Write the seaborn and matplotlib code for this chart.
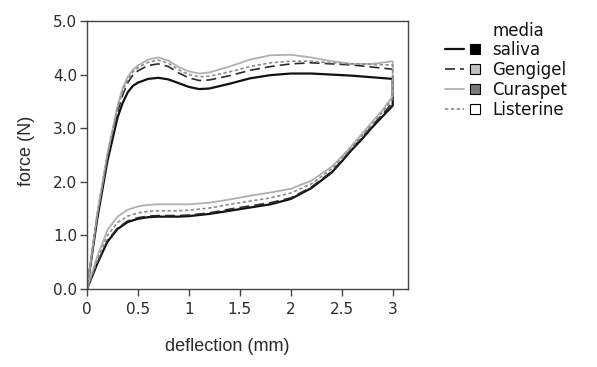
import pandas as pd
import numpy as np
import matplotlib
matplotlib.use('Agg')
import matplotlib.pyplot as plt
import seaborn as sns
from matplotlib.lines import Line2D
from matplotlib.legend_handler import HandlerBase

sns.set_style('ticks')

media = ['saliva', 'Gengigel', 'Curaspet', 'Listerine']

# loading branch (0 -> 3 mm)
x_load = [0, 0.1, 0.2, 0.3, 0.35, 0.4, 0.45, 0.5, 0.6, 0.7, 0.8, 0.9, 1.0, 1.1, 1.2,
          1.4, 1.6, 1.8, 2.0, 2.2, 2.4, 2.6, 2.8, 3.0]
saliva_load = [0, 1.3, 2.38, 3.2, 3.47, 3.67, 3.79, 3.85, 3.92, 3.94, 3.91, 3.84, 3.77, 3.73, 3.74,
               3.83, 3.93, 3.99, 4.02, 4.02, 4.0, 3.98, 3.95, 3.92]
gengigel_load = [0, 1.36, 2.45, 3.3, 3.62, 3.85, 3.99, 4.07, 4.17, 4.2, 4.15, 4.03, 3.94, 3.89, 3.9,
                 3.98, 4.08, 4.15, 4.2, 4.22, 4.2, 4.18, 4.14, 4.1]
curaspet_load = [0, 1.4, 2.52, 3.42, 3.75, 3.96, 4.09, 4.17, 4.28, 4.32, 4.26, 4.14, 4.06, 4.02, 4.04,
                 4.15, 4.28, 4.36, 4.37, 4.32, 4.25, 4.2, 4.2, 4.25]
listerine_load = [0, 1.38, 2.49, 3.37, 3.69, 3.91, 4.05, 4.13, 4.23, 4.27, 4.21, 4.09, 4.0, 3.96, 3.97,
                  4.05, 4.15, 4.22, 4.25, 4.25, 4.22, 4.2, 4.19, 4.18]

# unloading branch (3 -> 0 mm)
x_unload = [3.0, 2.9, 2.8, 2.7, 2.6, 2.5, 2.4, 2.2, 2.0, 1.8, 1.6, 1.4, 1.2,
            1.0, 0.9, 0.8, 0.7, 0.6, 0.5, 0.4, 0.3, 0.2, 0.1, 0]
saliva_unload = [3.42, 3.22, 3.02, 2.8, 2.6, 2.38, 2.17, 1.88, 1.68, 1.58, 1.52, 1.46, 1.4,
                 1.36, 1.35, 1.35, 1.35, 1.34, 1.31, 1.25, 1.12, 0.88, 0.47, 0]
gengigel_unload = [3.48, 3.26, 3.05, 2.83, 2.62, 2.4, 2.19, 1.9, 1.7, 1.61, 1.55, 1.49, 1.42,
                   1.38, 1.37, 1.37, 1.37, 1.36, 1.33, 1.27, 1.14, 0.9, 0.46, 0]
curaspet_unload = [3.6, 3.34, 3.12, 2.9, 2.68, 2.47, 2.28, 2.02, 1.87, 1.8, 1.74, 1.67, 1.61,
                   1.58, 1.58, 1.58, 1.58, 1.57, 1.54, 1.48, 1.35, 1.1, 0.6, 0]
listerine_unload = [3.55, 3.3, 3.08, 2.86, 2.65, 2.44, 2.24, 1.96, 1.79, 1.7, 1.64, 1.58, 1.51,
                    1.47, 1.46, 1.46, 1.46, 1.45, 1.42, 1.36, 1.24, 1.0, 0.53, 0]

loads = [saliva_load, gengigel_load, curaspet_load, listerine_load]
unloads = [saliva_unload, gengigel_unload, curaspet_unload, listerine_unload]

rows = []
for m, ld, ul in zip(media, loads, unloads):
    for x, y in zip(x_load + x_unload, ld + ul):
        rows.append({'deflection': x, 'force': y, 'media': m})
df = pd.DataFrame(rows)

line_colors = {'saliva': '#111111', 'Gengigel': '#2b2b2b', 'Curaspet': '#b0b0b0', 'Listerine': '#8c8c8c'}
dashes = {'saliva': '', 'Gengigel': (6, 3), 'Curaspet': '', 'Listerine': (2, 1.5)}
widths = {'saliva': 1.6, 'Gengigel': 1.2, 'Curaspet': 1.3, 'Listerine': 1.2}
square_colors = {'saliva': 'black', 'Gengigel': '#c0c0c0', 'Curaspet': '#7a7a7a', 'Listerine': 'white'}

fig = plt.figure(figsize=(5.97, 3.67), dpi=100)
ax = fig.add_axes([0.1457, 0.2125, 0.5377, 0.7303])

for m in media:
    sub = df[df['media'] == m]
    sns.lineplot(data=sub, x='deflection', y='force', sort=False, estimator=None,
                 color=line_colors[m], lw=widths[m], ax=ax, legend=False)
    ln = ax.get_lines()[-1]
    if dashes[m]:
        ln.set_dashes(dashes[m])

ax.set_xlim(0, 3.15)
ax.set_ylim(0, 5.0)
ax.set_xticks([0, 0.5, 1, 1.5, 2, 2.5, 3])
ax.set_xticklabels(['0', '0.5', '1', '1.5', '2', '2.5', '3'])
ax.set_yticks([0, 1, 2, 3, 4, 5])
ax.set_yticklabels(['0.0', '1.0', '2.0', '3.0', '4.0', '5.0'])
for s in ax.spines.values():
    s.set_color('#444444')
    s.set_linewidth(1.0)
ax.tick_params(direction='out', length=5, width=1, colors='#444444', labelcolor='#2a2a2a',
               labelsize=11)
ax.tick_params(axis='x', pad=4)
ax.tick_params(axis='y', pad=2)
for lab in ax.get_xticklabels() + ax.get_yticklabels():
    lab.set_family('DejaVu Sans')
ax.set_xlabel('deflection (mm)', family='Liberation Sans', fontsize=13, color='#2a2a2a')
ax.set_ylabel('force (N)', family='Liberation Sans', fontsize=13, color='#2a2a2a')
ax.xaxis.set_label_coords(0.438, -0.182)
ax.yaxis.set_label_coords(-0.163, 0.515)


class LineSquare(HandlerBase):
    def create_artists(self, legend, orig, xdescent, ydescent, width, height, fontsize, trans):
        ln, sq = orig
        y = height / 2 - ydescent
        l = Line2D([-xdescent, -xdescent + width * 0.5], [y, y])
        l.update_from(ln)
        l.set_transform(trans)
        s = Line2D([-xdescent + width * 0.8], [y])
        s.update_from(sq)
        s.set_transform(trans)
        return [l, s]


handles = []
for m in media:
    ln = Line2D([], [], color=line_colors[m], lw=widths[m])
    if dashes[m]:
        ln.set_dashes(dashes[m])
    sq = Line2D([], [], marker='s', ls='none', markersize=7.5,
                markerfacecolor=square_colors[m], markeredgecolor='black', markeredgewidth=0.8)
    handles.append((ln, sq))
leg = fig.legend(handles, media, loc='upper left', bbox_to_anchor=(0.745, 0.888),
                 frameon=False, handler_map={tuple: LineSquare()},
                 handlelength=2.28, handletextpad=0.55, labelspacing=0.12, borderpad=0, borderaxespad=0,
                 prop={'family': 'DejaVu Sans', 'size': 12})
for t in leg.get_texts():
    t.set_color('#111111')
fig.text(493 / 597, 1 - 31 / 367, 'media', family='DejaVu Sans', fontsize=12, color='#111111',
         ha='left', va='center')

fig.savefig('out.png', dpi=100)
